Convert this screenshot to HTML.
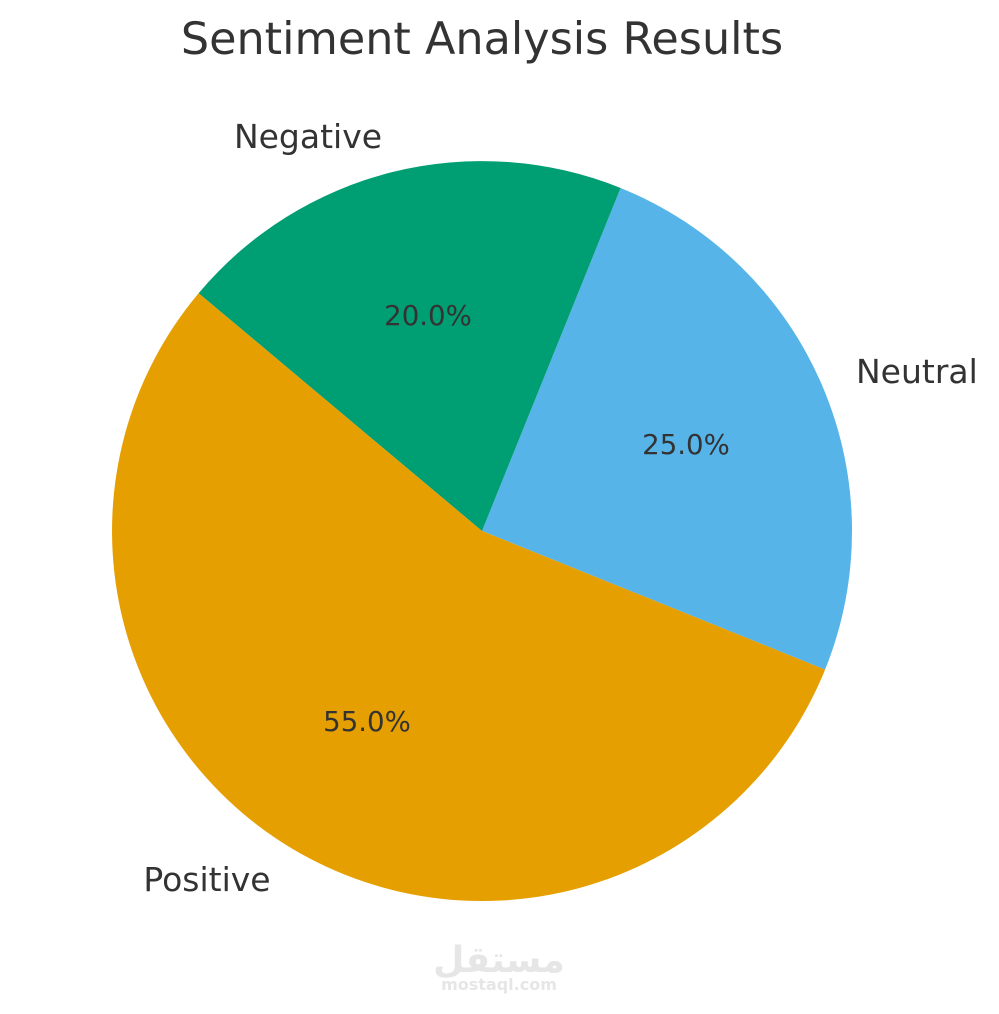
<!DOCTYPE html>
<html><head><meta charset="utf-8"><style>
html,body{margin:0;padding:0;background:#fff;}
svg{display:block;}
text{font-family:"DejaVu Sans","Liberation Sans",sans-serif;fill:#333;}
</style></head><body>
<svg width="999" height="1014" viewBox="0 0 999 1014" xmlns="http://www.w3.org/2000/svg">
<rect width="999" height="1014" fill="#fff"/>
<text x="482" y="54" font-size="44.5" text-anchor="middle">Sentiment Analysis Results</text>
<path d="M482,531 L825.1,669.6 A370,370 0 0 0 620.6,188.0 Z" fill="#56B4E9"/>
<path d="M482,531 L620.6,188.0 A370,370 0 0 0 198.6,293.2 Z" fill="#009E73"/>
<path d="M482,531 L198.6,293.2 A370,370 0 1 0 825.1,669.6 Z" fill="#E69F00"/>
<text x="308" y="148" font-size="33" text-anchor="middle">Negative</text>
<text x="856" y="383" font-size="33">Neutral</text>
<text x="207" y="891" font-size="33" text-anchor="middle">Positive</text>
<text x="428" y="325" font-size="27.6" text-anchor="middle">20.0%</text>
<text x="686" y="454" font-size="27.6" text-anchor="middle">25.0%</text>
<text x="367" y="731" font-size="27.6" text-anchor="middle">55.0%</text>
<text x="499" y="972" font-size="36" font-weight="bold" text-anchor="middle" style="fill:#e6e6e6;font-family:'DejaVu Sans',sans-serif">مستقل</text>
<text x="499" y="990" font-size="16" font-weight="bold" text-anchor="middle" style="fill:#e6e6e6">mostaql.com</text>
</svg>
</body></html>
